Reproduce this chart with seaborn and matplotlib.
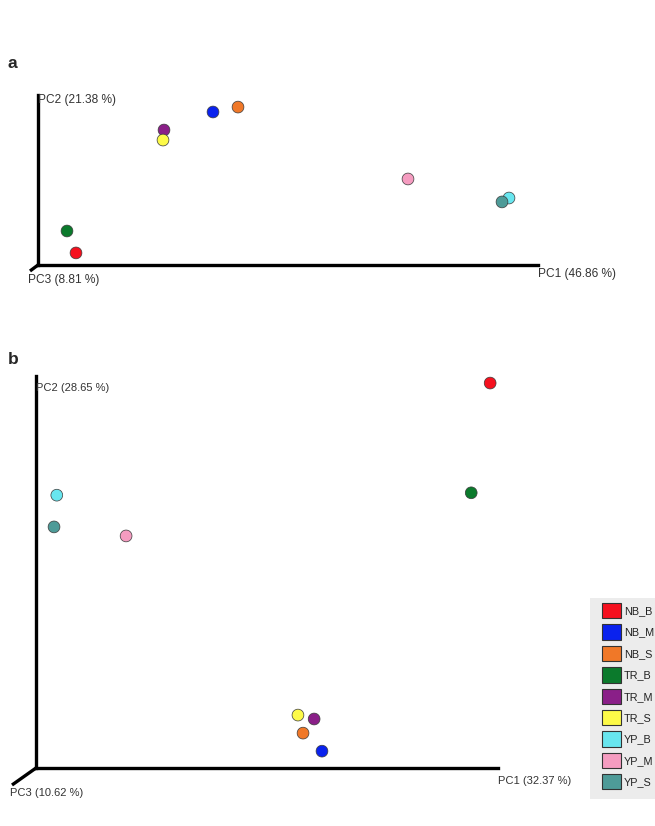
import pandas as pd
import matplotlib.pyplot as plt
import seaborn as sns
from matplotlib.patches import Patch, Rectangle

# 样本分组与配色
groups = ["NB_B", "NB_M", "NB_S", "TR_B", "TR_M", "TR_S", "YP_B", "YP_M", "YP_S"]
group_colors = ["#f5101e", "#0a22ee", "#f07828", "#0b7a2c", "#8a1f88",
                "#fdfa48", "#68e6ef", "#f59cc0", "#4e9b98"]

# 图a: PCoA 坐标 (按轴长缩放到 0-100)
pc1_a = [7.6, 35.0, 40.0, 5.8, 25.2, 25.0, 94.2, 74.0, 92.8]
pc2_a = [7.1, 90.0, 92.9, 20.0, 79.4, 73.5, 39.4, 50.6, 37.1]
axis_labels_a = ["PC1 (46.86 %)", "PC2 (21.38 %)", "PC3 (8.81 %)"]

# 图b
pc1_b = [98.3, 61.9, 57.8, 94.2, 60.2, 56.7, 4.5, 19.5, 3.9]
pc2_b = [98.2, 4.3, 8.9, 70.2, 12.5, 13.5, 69.6, 59.2, 61.5]
axis_labels_b = ["PC1 (32.37 %)", "PC2 (28.65 %)", "PC3 (10.62 %)"]

sns.set_style("white")
plt.rcParams['font.family'] = ['Liberation Sans', 'DejaVu Sans']

W, H = 655, 826
fig = plt.figure(figsize=(W / 100, H / 100), dpi=100)
palette = dict(zip(groups, group_colors))


def make_panel(box, pc1, pc2, labels, letter, letter_xy, diag, fs):
    x0, y0, x1, y1 = box  # 像素坐标: 原点(x0,y0), 右端x1, 顶端y1
    ax = fig.add_axes([x0 / W, 1 - y0 / H, (x1 - x0) / W, (y0 - y1) / H])
    df = pd.DataFrame({"PC1": pc1, "PC2": pc2, "Group": groups})
    sns.scatterplot(data=df, x="PC1", y="PC2", hue="Group", palette=palette,
                    s=72, edgecolor="#3a3a3a", linewidth=0.5, legend=False,
                    ax=ax, clip_on=False, zorder=3)
    ax.set_xlim(0, 100)
    ax.set_ylim(0, 100)
    ax.set_xticks([])
    ax.set_yticks([])
    ax.set_xlabel("")
    ax.set_ylabel("")
    for s in ["top", "right"]:
        ax.spines[s].set_visible(False)
    for s in ["left", "bottom"]:
        ax.spines[s].set_linewidth(2.4)
        ax.spines[s].set_color("black")
    # PC3 斜轴
    dx, dy = diag
    ax.plot([0, -dx / (x1 - x0)], [0, -dy / (y0 - y1)], color="black", lw=2.4,
            transform=ax.transAxes, clip_on=False, solid_capstyle="butt")
    tc = "#333333"
    ax.text(1.0, -0.02, labels[0], transform=ax.transAxes, fontsize=fs,
            color=tc, ha="left", va="top")
    ax.text(0.0, 0.97, labels[1], transform=ax.transAxes, fontsize=fs,
            color=tc, ha="left", va="center")
    ax.text(-(dx + 2) / (x1 - x0), -(dy + 3) / (y0 - y1), labels[2],
            transform=ax.transAxes, fontsize=fs, color=tc, ha="left", va="top")
    fig.text(letter_xy[0] / W, 1 - letter_xy[1] / H, letter, fontsize=12.5,
             fontweight="bold", ha="left", va="center")
    return ax


make_panel((38, 265, 538, 95), pc1_a, pc2_a, axis_labels_a, "a", (8, 64), (8, 6), 8.6)
make_panel((36, 768, 498, 376), pc1_b, pc2_b, axis_labels_b, "b", (8, 360), (24, 17), 8)

# 图例灰色背景
fig.patches.append(Rectangle((590 / W, 1 - 799 / H), 65 / W, 201 / H,
                             transform=fig.transFigure, facecolor="#ececec",
                             edgecolor="none", zorder=0))

handles = [Patch(facecolor=c, edgecolor="#333333", linewidth=0.8) for c in group_colors]
leg = fig.legend(handles, groups, loc="upper left",
                 bbox_to_anchor=(602 / W, 1 - 603 / H), fontsize=7.8,
                 handlelength=1.75, handleheight=1.8, labelspacing=0.56,
                 handletextpad=0.25, borderpad=0, borderaxespad=0,
                 frameon=False)
for t in leg.get_texts():
    t.set_color("#222222")

plt.savefig("out.png", dpi=100, facecolor="white")
plt.close()
